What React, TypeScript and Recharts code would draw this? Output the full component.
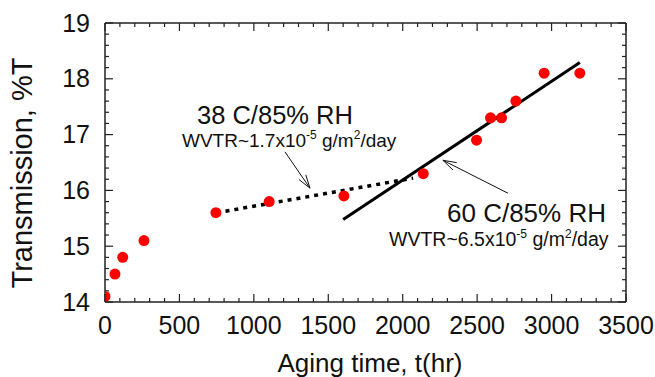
import React from "react";
import {
  ComposedChart,
  Customized,
  Line,
  ReferenceLine,
  Scatter,
  XAxis,
  YAxis,
} from "recharts";

// measured points
const agingTime = [0, 67, 119, 262, 745, 1103, 1605, 2138, 2496, 2590, 2664, 2760, 2950, 3190];
const transmission = [14.1, 14.5, 14.8, 15.1, 15.6, 15.8, 15.9, 16.3, 16.9, 17.3, 17.3, 17.6, 18.1, 18.1];

// fit lines (end points)
const fit38Time = [750, 2070];
const fit38Value = [15.6, 16.22];
const fit60Time = [1600, 3190];
const fit60Value = [15.48, 18.29];

// annotation arrows: [tail, tip]
const arrow38Time = [1209, 1377];
const arrow38Value = [16.69, 16.04];
const arrow60Time = [2707, 2270];
const arrow60Value = [15.95, 16.54];

const xMajorTicks = [0, 500, 1000, 1500, 2000, 2500, 3000, 3500];
const yMajorTicks = [14, 15, 16, 17, 18, 19];

const withMinor = (majors: number[], parts: number) => {
  const out: number[] = [];
  majors.forEach((m, i) => {
    out.push(m);
    const next = majors[i + 1];
    if (next === undefined) return;
    for (let k = 1; k < parts; k++) {
      out.push(Number((m + ((next - m) * k) / parts).toFixed(3)));
    }
  });
  return out;
};

const xTicks = withMinor(xMajorTicks, 5);
const yTicks = withMinor(yMajorTicks, 5);

const points = agingTime.map((x, i) => ({ x, y: transmission[i] }));
const fit38 = fit38Time.map((x, i) => ({ x, y: fit38Value[i] }));
const fit60 = fit60Time.map((x, i) => ({ x, y: fit60Value[i] }));

const FONT = "'Liberation Sans', Arial, sans-serif";
const AXIS = "#222";

const isMajor = (v: number, majors: number[]) =>
  majors.some((m) => Math.abs(m - v) < 1e-6);

const BottomTick = (p: any) => {
  const v = p.payload.value;
  const major = isMajor(v, xMajorTicks);
  return (
    <g>
      <line x1={p.x} y1={p.y} x2={p.x} y2={p.y - (major ? 8 : 4)} stroke={AXIS} strokeWidth={1.2} />
      {major && (
        <text x={p.x} y={p.y + 32} textAnchor="middle" fontSize={25} fontFamily={FONT} fill="#111">
          {v}
        </text>
      )}
    </g>
  );
};

const TopTick = (p: any) => {
  const major = isMajor(p.payload.value, xMajorTicks);
  return <line x1={p.x} y1={p.y} x2={p.x} y2={p.y + (major ? 8 : 4)} stroke={AXIS} strokeWidth={1.2} />;
};

const LeftTick = (p: any) => {
  const v = p.payload.value;
  const major = isMajor(v, yMajorTicks);
  return (
    <g>
      <line x1={p.x} y1={p.y} x2={p.x + (major ? 8 : 4)} y2={p.y} stroke={AXIS} strokeWidth={1.2} />
      {major && (
        <text x={p.x - 15} y={p.y + 8.5} textAnchor="end" fontSize={25} fontFamily={FONT} fill="#111">
          {v}
        </text>
      )}
    </g>
  );
};

const RightTick = (p: any) => {
  const major = isMajor(p.payload.value, yMajorTicks);
  return <line x1={p.x} y1={p.y} x2={p.x - (major ? 8 : 4)} y2={p.y} stroke={AXIS} strokeWidth={1.2} />;
};

const ArrowShape = (p: any) => {
  const { x1, y1, x2, y2 } = p;
  const ang = Math.atan2(y2 - y1, x2 - x1);
  const len = 14;
  const spread = 0.3;
  const ax = x2 - len * Math.cos(ang - spread);
  const ay = y2 - len * Math.sin(ang - spread);
  const bx = x2 - len * Math.cos(ang + spread);
  const by = y2 - len * Math.sin(ang + spread);
  return (
    <g stroke="#111" strokeWidth={1} fill="none">
      <line x1={x1} y1={y1} x2={x2} y2={y2} />
      <polyline points={`${ax},${ay} ${x2},${y2} ${bx},${by}`} />
    </g>
  );
};

const Annotations = () => (
  <g fontFamily={FONT} fill="#111">
    <text x={197} y={124} fontSize={25.5}>38 C/85% RH</text>
    <text x={182} y={147} fontSize={19}>
      WVTR~1.7x10<tspan dy={-8} fontSize={12}>-5</tspan>
      <tspan dy={8}> g/m</tspan>
      <tspan dy={-8} fontSize={12}>2</tspan>
      <tspan dy={8}>/day</tspan>
    </text>
    <text x={447} y={222} fontSize={26}>60 C/85% RH</text>
    <text x={389} y={246} fontSize={19.5}>
      WVTR~6.5x10<tspan dy={-8} fontSize={12}>-5</tspan>
      <tspan dy={8}> g/m</tspan>
      <tspan dy={-8} fontSize={12}>2</tspan>
      <tspan dy={8}>/day</tspan>
    </text>
    <text x={370} y={372} fontSize={26} textAnchor="middle">Aging time, t(hr)</text>
    <text x={32} y={173} fontSize={29} textAnchor="middle" transform="rotate(-90 32 173)">
      Transmission, %T
    </text>
  </g>
);

export default function App() {
  return (
    <div style={{ position: "absolute", left: 0, top: 0, background: "#fff" }}>
      <ComposedChart
        width={655}
        height={377}
        margin={{ top: 0, right: 0, bottom: 0, left: 0 }}
      >
        <XAxis
          xAxisId="b"
          dataKey="x"
          type="number"
          domain={[0, 3500]}
          ticks={xTicks}
          interval={0}
          height={75}
          tickSize={0}
          tickMargin={0}
          tickLine={false}
          tick={<BottomTick />}
          axisLine={{ stroke: AXIS, strokeWidth: 1.5 }}
          allowDataOverflow
        />
        <XAxis
          xAxisId="t"
          orientation="top"
          dataKey="x"
          type="number"
          domain={[0, 3500]}
          ticks={xTicks}
          interval={0}
          height={23}
          tickSize={0}
          tickMargin={0}
          tickLine={false}
          tick={<TopTick />}
          axisLine={{ stroke: AXIS, strokeWidth: 1.5 }}
          allowDataOverflow
        />
        <YAxis
          yAxisId="l"
          dataKey="y"
          type="number"
          domain={[14, 19]}
          ticks={yTicks}
          interval={0}
          width={105}
          tickSize={0}
          tickMargin={0}
          tickLine={false}
          tick={<LeftTick />}
          axisLine={{ stroke: AXIS, strokeWidth: 1.5 }}
          allowDataOverflow
        />
        <YAxis
          yAxisId="r"
          orientation="right"
          dataKey="y"
          type="number"
          domain={[14, 19]}
          ticks={yTicks}
          interval={0}
          width={29}
          tickSize={0}
          tickMargin={0}
          tickLine={false}
          tick={<RightTick />}
          axisLine={{ stroke: AXIS, strokeWidth: 1.5 }}
          allowDataOverflow
        />
        <Line
          xAxisId="b"
          yAxisId="l"
          data={fit38}
          dataKey="y"
          stroke="#000"
          strokeWidth={3.5}
          strokeDasharray="4 5"
          dot={false}
          isAnimationActive={false}
        />
        <Line
          xAxisId="b"
          yAxisId="l"
          data={fit60}
          dataKey="y"
          stroke="#000"
          strokeWidth={3}
          dot={false}
          isAnimationActive={false}
        />
        <ReferenceLine
          xAxisId="b"
          yAxisId="l"
          segment={[
            { x: arrow38Time[0], y: arrow38Value[0] },
            { x: arrow38Time[1], y: arrow38Value[1] },
          ]}
          shape={<ArrowShape />}
        />
        <ReferenceLine
          xAxisId="b"
          yAxisId="l"
          segment={[
            { x: arrow60Time[0], y: arrow60Value[0] },
            { x: arrow60Time[1], y: arrow60Value[1] },
          ]}
          shape={<ArrowShape />}
        />
        <Scatter
          xAxisId="b"
          yAxisId="l"
          data={points}
          dataKey="y"
          isAnimationActive={false}
          shape={(p: any) => <circle cx={p.cx} cy={p.cy} r={5.5} fill="#ff0000" />}
        />
        <Customized component={Annotations} />
      </ComposedChart>
    </div>
  );
}
